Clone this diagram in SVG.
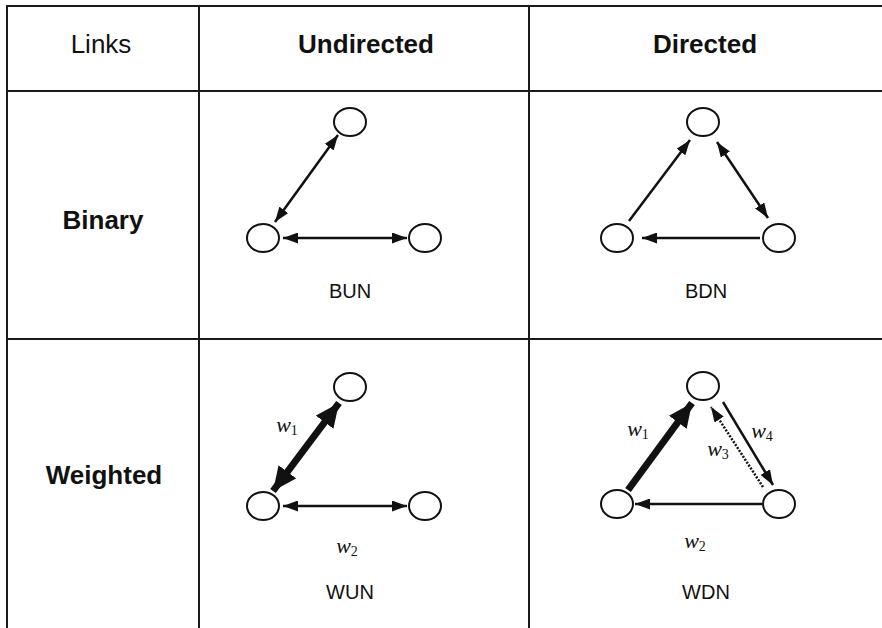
<svg xmlns="http://www.w3.org/2000/svg" width="882" height="628" viewBox="0 0 882 628">
<style>
.grid{stroke:#1a1a1a;stroke-width:2;fill:none}
.hdr{font-family:"Liberation Sans",Arial,sans-serif;font-size:26px;fill:#111;text-anchor:middle}
.b{font-weight:bold}
.lbl{font-family:"Liberation Sans",Arial,sans-serif;font-size:20px;fill:#111;text-anchor:middle}
.node{fill:#fff;stroke:#111;stroke-width:2}
.e{stroke:#111;stroke-width:2.5;fill:none}
.thick{stroke:#111;stroke-width:7;fill:none}
.dot{stroke:#111;stroke-width:2.5;stroke-dasharray:2,1.5;fill:none}
.w{font-family:"Liberation Serif","Times New Roman",serif;font-style:italic;font-size:22px;fill:#111;text-anchor:middle}
.sub{font-style:normal;font-size:14px}
</style>
<defs>
<marker id="ah" markerUnits="userSpaceOnUse" markerWidth="15" markerHeight="11" refX="15" refY="5.5" orient="auto-start-reverse"><path d="M0,0 L15,5.5 L0,11 z" fill="#111"/></marker>
<marker id="ahBig" markerUnits="userSpaceOnUse" markerWidth="24" markerHeight="22" refX="24" refY="11" orient="auto-start-reverse"><path d="M0,0 L24,11 L0,22 z" fill="#111"/></marker>
</defs>
<rect width="882" height="628" fill="#fff"/>
<g id="table">
<line class="grid" x1="6" y1="6" x2="882" y2="6"/>
<line class="grid" x1="6" y1="91" x2="882" y2="91"/>
<line class="grid" x1="6" y1="339" x2="882" y2="339"/>
<line class="grid" x1="7" y1="5" x2="7" y2="628"/>
<line class="grid" x1="199" y1="5" x2="199" y2="628"/>
<line class="grid" x1="529" y1="5" x2="529" y2="628"/>
</g>
<g id="headers">
<text class="hdr" x="101" y="53">Links</text>
<text class="hdr b" x="366" y="53">Undirected</text>
<text class="hdr b" x="705" y="53">Directed</text>
<text class="hdr b" x="103" y="229">Binary</text>
<text class="hdr b" x="104" y="484">Weighted</text>
</g>
<g id="connectors">
<line class="e" x1="275" y1="222" x2="338" y2="135" marker-start="url(#ah)" marker-end="url(#ah)"/>
<line class="e" x1="283" y1="238" x2="407" y2="238" marker-start="url(#ah)" marker-end="url(#ah)"/>
<line class="e" x1="629" y1="221" x2="690" y2="140" marker-end="url(#ah)"/>
<line class="e" x1="717" y1="142" x2="768" y2="218" marker-start="url(#ah)" marker-end="url(#ah)"/>
<line class="e" x1="760" y1="238" x2="642" y2="238" marker-end="url(#ah)"/>
<line class="thick" x1="273" y1="491" x2="339" y2="403" marker-start="url(#ahBig)" marker-end="url(#ahBig)"/>
<line class="e" x1="283" y1="506" x2="407" y2="506" marker-start="url(#ah)" marker-end="url(#ah)"/>
<line class="thick" x1="628" y1="490" x2="692" y2="403" marker-end="url(#ahBig)"/>
<line class="e" x1="723" y1="402" x2="773" y2="485" marker-end="url(#ah)"/>
<line class="dot" x1="763" y1="487" x2="711" y2="407" marker-end="url(#ah)"/>
<line class="e" x1="762" y1="504" x2="635" y2="504" marker-end="url(#ah)"/>
</g>
<g id="BUN">
<ellipse class="node" cx="350" cy="122" rx="16" ry="14"/>
<ellipse class="node" cx="263" cy="238" rx="16" ry="14"/>
<ellipse class="node" cx="425" cy="238" rx="16" ry="14"/>
<text class="lbl" x="350" y="298">BUN</text>
</g>
<g id="BDN">
<ellipse class="node" cx="703" cy="122" rx="16" ry="14"/>
<ellipse class="node" cx="617" cy="238" rx="16" ry="14"/>
<ellipse class="node" cx="779" cy="238" rx="16" ry="14"/>
<text class="lbl" x="706" y="298">BDN</text>
</g>
<g id="WUN">
<ellipse class="node" cx="350" cy="387" rx="16" ry="14"/>
<ellipse class="node" cx="263" cy="506" rx="16" ry="14"/>
<ellipse class="node" cx="425" cy="506" rx="16" ry="14"/>
<text class="w" x="287" y="432">w<tspan class="sub" dy="3">1</tspan></text>
<text class="w" x="347" y="553">w<tspan class="sub" dy="3">2</tspan></text>
<text class="lbl" x="350" y="599">WUN</text>
</g>
<g id="WDN">
<ellipse class="node" cx="703" cy="386" rx="16" ry="14"/>
<ellipse class="node" cx="617" cy="504" rx="16" ry="14"/>
<ellipse class="node" cx="779" cy="504" rx="16" ry="14"/>
<text class="w" x="638" y="436">w<tspan class="sub" dy="3">1</tspan></text>
<text class="w" x="762" y="438">w<tspan class="sub" dy="3">4</tspan></text>
<text class="w" x="718" y="456">w<tspan class="sub" dy="3">3</tspan></text>
<text class="w" x="695" y="548">w<tspan class="sub" dy="3">2</tspan></text>
<text class="lbl" x="706" y="599">WDN</text>
</g>
</svg>
